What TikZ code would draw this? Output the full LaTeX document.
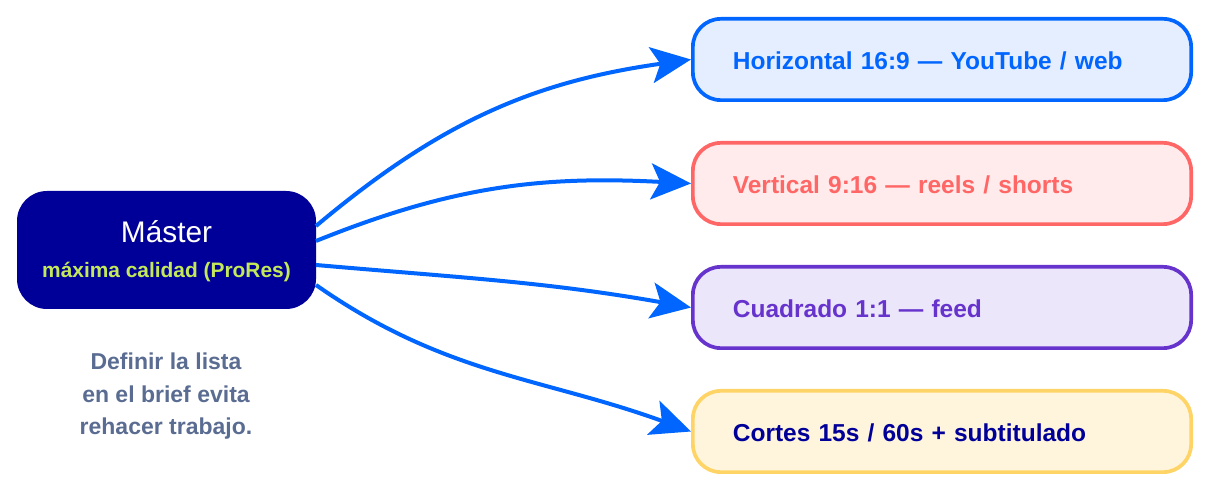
\documentclass[tikz,border=0pt]{standalone}
\usepackage{fontspec}
\setmainfont{Liberation Sans}
\usetikzlibrary{arrows.meta}
\definecolor{navy}{RGB}{0,0,153}
\definecolor{arrowblue}{RGB}{0,102,255}
\definecolor{lime}{RGB}{195,232,90}
\definecolor{slate}{RGB}{90,108,145}
\definecolor{bluefill}{RGB}{229,238,255}
\definecolor{redline}{RGB}{255,102,102}
\definecolor{redfill}{RGB}{255,235,235}
\definecolor{purpleline}{RGB}{102,51,204}
\definecolor{purplefill}{RGB}{236,230,251}
\definecolor{yellowline}{RGB}{255,212,102}
\definecolor{yellowfill}{RGB}{255,245,220}
\tikzset{
  masterbox/.style={draw=none, fill=navy, rounded corners=30pt, minimum width=299pt, minimum height=118pt, inner sep=0pt},
  outbox/.style={line width=3.7pt, rounded corners=28pt, minimum height=81.3pt, inner xsep=40pt, inner ysep=0pt,
    text width=418.3pt, text height=21pt, text depth=0pt, align=left, font=\fontsize{24.5}{28}\selectfont\bfseries},
  conn/.style={draw=arrowblue, line width=4pt, -{Stealth[length=40pt, width=36pt, inset=9pt]}},
}
\begin{document}
\begin{tikzpicture}[x=1pt,y=1pt]
\useasboundingbox (0,0) rectangle (1210,492);
\node[masterbox] (m) at (166.5,242) {};
\node[text=white, font=\fontsize{29.8}{32}\selectfont, inner sep=0pt] (mt) at (166.5,260) {Máster};
\node[text=lime, font=\fontsize{20.9}{24}\selectfont\bfseries, inner sep=0pt] (ms) at (166.5,220) {máxima calidad (ProRes)};
\node[text=slate, font=\fontsize{23}{32.5}\selectfont\bfseries, align=center, inner sep=0pt] (note) at (166,95.5) {Definir la lista\\en el brief evita\\rehacer trabajo.};

\node[outbox, draw=arrowblue, fill=bluefill, text=arrowblue] (b1) at (942,432.5) {Horizontal 16:9 — YouTube / web};
\node[outbox, draw=redline, fill=redfill, text=redline] (b2) at (942,308.5) {Vertical 9:16 — reels / shorts};
\node[outbox, draw=purpleline, fill=purplefill, text=purpleline] (b3) at (942,184.5) {Cuadrado 1:1 — feed};
\node[outbox, draw=yellowline, fill=yellowfill, text=navy] (b4) at (942,60.5) {Cortes 15s / 60s + subtitulado};

\coordinate (s1) at (316,266);
\coordinate (s2) at (316,251);
\coordinate (s3) at (316,227);
\coordinate (s4) at (316,207);
\draw[conn] (s1) to[out=40, in=188] (b1.west);
\draw[conn] (s2) to[out=22, in=177] (b2.west);
\draw[conn] (s3) to[out=-5, in=170] (b3.west);
\draw[conn] (s4) to[out=-35, in=160] (b4.west);
\end{tikzpicture}
\end{document}
